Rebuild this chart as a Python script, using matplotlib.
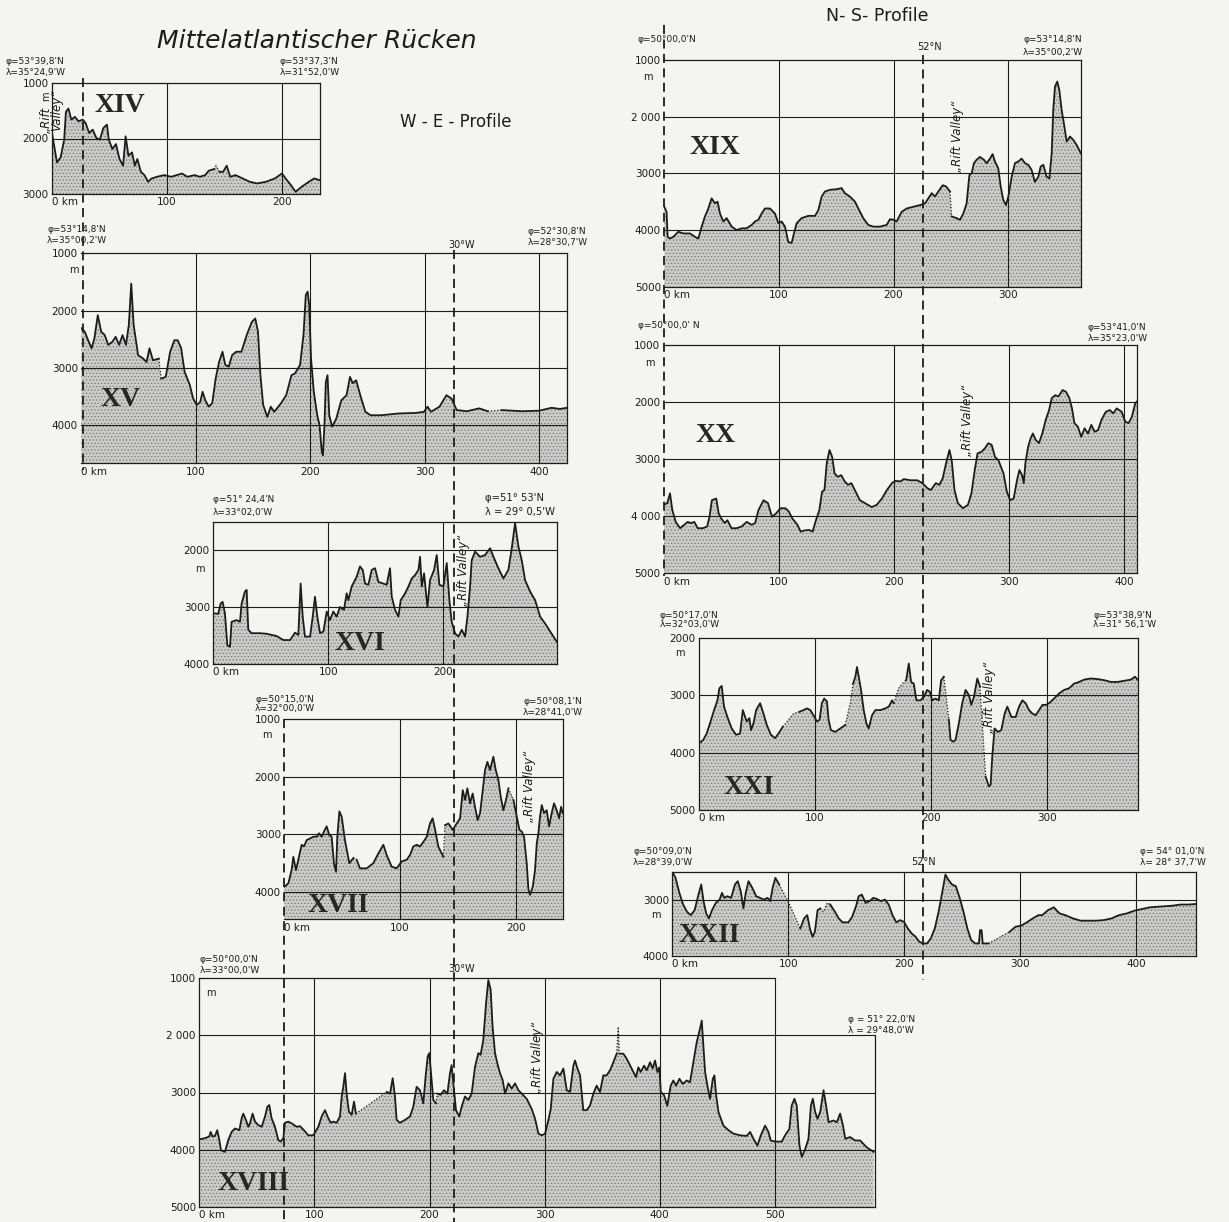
import numpy as np
import matplotlib.pyplot as plt

W, H = 1229, 1222
PAPER = '#f4f4f1'
INK = '#1c1c1c'
FILL = '#cbcbc9'
DOTS = '#767676'

plt.rcParams['hatch.linewidth'] = 0.5
plt.rcParams['font.family'] = 'DejaVu Sans'

# echo-sounding profiles: (distance in km, depth in m)
xiv = [(0, 1900), (4.3, 2430), (7.5, 2340), (10.6, 2020), (12.1, 1520), (14.3, 1460), (16.8, 1660),
       (19.9, 1610), (23, 1690), (26.7, 1660), (29.2, 1720), (32.3, 1900), (35.4, 1840), (38.5, 1990),
       (41.6, 2020), (44.7, 1810), (47.8, 1750), (49.4, 2020), (52.5, 2190), (55.6, 2100), (58.7, 2370),
       (61.8, 2490), (64, 1960), (66.5, 2310), (69.6, 2250), (72, 2490), (74.2, 2370), (77.3, 2600),
       (80.4, 2660), (83.5, 2780), (86.6, 2720), (91.3, 2690), (97.5, 2660), (103.7, 2690), (108.4, 2660),
       (113, 2630), (117.7, 2690), (123.9, 2660), (128.6, 2690), (133.2, 2660), (136.3, 2580), (141, 2550),
       (142.5, 2490), (145.7, 2600), (148.8, 2600), (151.9, 2490), (155, 2690), (159.6, 2660), (165.8, 2720),
       (172, 2780), (178.3, 2810), (186, 2780), (193.8, 2720), (200, 2630), (203.1, 2720), (207.8, 2840),
       (211.8, 2960), (217.1, 2870), (223.3, 2780), (228, 2720), (232.6, 2750)]
xiv_gaps = [(141, 145.7)]

xv = [(0, 2310), (3, 2370), (6, 2520), (9, 2660), (11.4, 2490), (14.4, 2080), (17.4, 2370), (20.5, 2430),
      (23.5, 2600), (27, 2550), (30, 2460), (33, 2600), (36, 2430), (39, 2600), (41.5, 2250), (43.6, 1530),
      (45.7, 2250), (49.6, 2780), (54, 2840), (57, 2900), (59.5, 2660), (62.6, 2870), (67.7, 2840),
      (69.8, 3190), (73.7, 3160), (77.6, 2720), (81.2, 2520), (84.2, 2520), (87.2, 2660), (90.2, 3070),
      (94.7, 3300), (97.7, 3540), (100.8, 3650), (103.8, 3600), (105.9, 3420), (108.3, 3570), (111.3, 3680),
      (114.3, 3620), (117.3, 3190), (120.3, 2900), (123.3, 2720), (125.7, 2950), (128.7, 2980), (131.7, 2780),
      (135.3, 2720), (139.8, 2720), (144.4, 2430), (148.9, 2200), (151.9, 2140), (154.3, 2370), (156.4, 3130),
      (158.8, 3650), (162.4, 3860), (165.4, 3680), (168.4, 3770), (174.4, 3620), (178.9, 3480), (183.5, 3130),
      (186.5, 3100), (191, 2950), (194, 2430), (196, 1730), (197.6, 1670), (199, 1900), (200.6, 2840),
      (203, 3420), (206, 3830), (208, 4000), (210, 4470), (211, 4530), (212.3, 4000), (213.5, 3250),
      (215, 3130), (216.5, 3830), (219, 4030), (222.6, 3890), (227, 3570), (231.6, 3480), (234.6, 3160),
      (237, 3270), (240, 3220), (243.6, 3480), (248, 3770), (252.6, 3830), (261.7, 3830), (276.7, 3800),
      (291.7, 3790), (299.2, 3770), (302.3, 3680), (305.3, 3770), (312.8, 3680), (318.8, 3480), (323.3, 3540),
      (327.8, 3740), (336.8, 3760), (347.4, 3710), (354.9, 3760), (367, 3740), (385, 3760), (400, 3750),
      (410.5, 3700), (418, 3720), (424, 3700)]
xv_gaps = [(67.7, 69.8), (354.9, 367)]

xvi = [(0, 3110), (4.3, 3120), (6.4, 2940), (8.1, 2910), (10.1, 3110), (12.2, 3670), (14.5, 3700),
       (15.9, 3260), (20.3, 3230), (23.2, 3260), (24.6, 2940), (27.5, 2730), (29, 2700), (30.4, 3400),
       (33.3, 3460), (40.6, 3460), (46.4, 3470), (55.1, 3510), (60.9, 3580), (66.7, 3580), (71, 3450),
       (73.9, 3490), (75.9, 2590), (77.7, 3170), (79.7, 3520), (84.1, 3520), (86.4, 3170), (88.4, 2820),
       (90.4, 3170), (92.8, 3460), (95.7, 3430), (98.6, 3080), (101.4, 3230), (104.3, 3080), (107.2, 3170),
       (110.1, 3000), (113.6, 3050), (115.9, 2760), (117.4, 2880), (120.3, 2640), (124.6, 2470), (127.5, 2290),
       (129.9, 2350), (131.9, 2590), (134.8, 2610), (137.7, 2350), (140.6, 2320), (143.5, 2560), (147.8, 2590),
       (150.7, 2610), (153.6, 2320), (155.1, 2820), (158, 3050), (160.9, 3170), (162.9, 2880), (166.7, 2760),
       (169.6, 2640), (172.5, 2500), (175.4, 2440), (178.3, 2350), (179.7, 2120), (181.2, 2640), (183.2, 2410),
       (186.1, 3000), (188.4, 2530), (191.9, 2350), (194.2, 2090), (196.5, 2610), (200, 2640), (202.9, 2230),
       (205.2, 2880), (207.2, 3260), (210.1, 3460), (213, 3520), (216, 3400), (218.8, 3520), (220.9, 3170),
       (223.2, 2640), (224.6, 2180), (227.5, 2030), (231.9, 2120), (236.2, 2090), (240.6, 1970), (243.5, 2120),
       (247.8, 2320), (252.2, 2500), (256.5, 2350), (259.4, 1970), (262.3, 1530), (265.2, 1940), (268.1, 2180),
       (271, 2530), (275.4, 2730), (279.7, 2880), (284.1, 3170), (288.4, 3290), (292.8, 3430), (295.7, 3520),
       (298.6, 3610)]
xvi_gaps = []

xvii = [(0, 3910), (3.5, 3850), (6.3, 3620), (7.8, 3390), (10.1, 3620), (12.1, 3440), (15, 3180), (17, 3210),
        (19.3, 3100), (22.2, 3070), (25.1, 3040), (28, 3040), (30, 2980), (32.3, 3040), (34.3, 2950),
        (36.6, 2860), (38.9, 3010), (40.9, 3040), (42.9, 3500), (44.7, 3650), (45.8, 3040), (47.6, 2600),
        (49.6, 2690), (52.4, 3100), (56.2, 3500), (59.7, 3410), (62.5, 3440), (65.4, 3590), (71.2, 3590),
        (76.9, 3500), (81.3, 3330), (85.6, 3180), (88.5, 3360), (92.8, 3560), (97.1, 3590), (101.4, 3470),
        (105.8, 3440), (108.6, 3360), (111.5, 3210), (114.4, 3180), (117.3, 3210), (120.2, 3130), (123.1, 3040),
        (125.9, 2810), (128.2, 2720), (130.3, 2920), (133.1, 3210), (137.5, 3390), (138.9, 2840), (141.8, 2810),
        (145.5, 2920), (149, 2810), (151.9, 2720), (154.2, 2230), (156.2, 2400), (158.2, 2200), (160.5, 2460),
        (162.8, 2290), (164.8, 2520), (167.1, 2750), (169.2, 2630), (171.5, 2230), (173.5, 1880), (175.5, 1740),
        (177.8, 1880), (180.7, 1650), (182.7, 1880), (185, 2050), (187, 2340), (189.3, 2580), (191.6, 2400),
        (193.7, 2200), (198, 2400), (200.9, 2690), (203.2, 2920), (205.2, 2950), (207.2, 3040), (209.5, 3500),
        (211, 3960), (212.4, 4050), (214.7, 3910), (216.7, 3620), (218.2, 3150), (219.6, 2980), (221, 2690),
        (222.5, 2490), (224.5, 2630), (226.8, 2580), (228.8, 2860), (231.1, 2630), (233.1, 2460), (235.4, 2580),
        (237.5, 2720), (239.2, 2520), (240.6, 2630)]
xvii_gaps = [(59.7, 62.5), (137.5, 138.9), (193.7, 198)]

xviii = [(0, 3820), (4.9, 3800), (8.7, 3770), (9.8, 3690), (11.6, 3770), (13.6, 3760), (15.6, 3660),
         (17.4, 3830), (18.8, 4010), (22.3, 4040), (25.2, 3830), (28.1, 3690), (31, 3630), (34.8, 3660),
         (36.8, 3450), (38.2, 3370), (40.5, 3480), (42.6, 3600), (44, 3540), (46.3, 3370), (48.4, 3510),
         (51.3, 3570), (54.2, 3600), (57.1, 3420), (59.1, 3250), (60.8, 3220), (62.8, 3450), (65.7, 3600),
         (68.6, 3830), (70.7, 3860), (73, 3800), (74.4, 3530), (77.3, 3510), (80.2, 3540), (84.6, 3600),
         (87.5, 3590), (90.9, 3660), (94.7, 3750), (99, 3750), (103.4, 3600), (106.3, 3420), (109.2, 3310),
         (112.1, 3450), (114.1, 3530), (116.4, 3510), (119.3, 3530), (122.2, 3420), (123.7, 3070), (125.1, 2900),
         (126.6, 2660), (128, 3020), (130, 3340), (132.4, 3390), (134.4, 3160), (136.1, 3370), (162.8, 2990),
         (165.7, 3020), (168, 2750), (170, 3070), (171.4, 3480), (174.3, 3530), (178.7, 3480), (183, 3420),
         (185.9, 3250), (188.8, 2900), (191.7, 2960), (194.6, 3190), (196.6, 2720), (198.4, 2370), (199.8, 2310),
         (201.3, 2660), (203.3, 3130), (205.6, 3190), (206.8, 3020), (209.7, 3040), (212.6, 2960), (215.5, 3020),
         (217.8, 2660), (219.2, 2520), (220.7, 2840), (223, 3310), (225.9, 3420), (227.9, 3250), (230.8, 3070),
         (233.7, 3130), (236.6, 3020), (239.5, 2550), (242.4, 2310), (244.4, 2340), (246.7, 2080), (249.1, 1440),
         (251.1, 1030), (253.1, 1200), (254.8, 1850), (256.9, 2310), (258.9, 2490), (261.2, 2660), (263.5, 2780),
         (265.6, 3020), (268.5, 2840), (271.4, 2930), (274.3, 2840), (277.2, 2960), (280.1, 3020), (284.4, 3110),
         (288.8, 3290), (291.7, 3460), (294.6, 3720), (297.5, 3750), (300.4, 3720), (303.2, 3490), (305.3, 3290),
         (307.6, 2760), (310.5, 2640), (313.4, 2700), (316.3, 2580), (319.2, 2960), (322.1, 2990), (325, 2530),
         (326.4, 2440), (328.5, 2580), (330.8, 2700), (333.6, 3310), (336.5, 3310), (339.4, 3230), (342.3, 3020),
         (345.2, 2880), (348.1, 2990), (351, 2700), (353.9, 2700), (356.8, 2610), (359.7, 2470), (362.6, 2320),
         (364, 1850), (364.9, 2320), (368.4, 2320), (371.3, 2410), (375.6, 2580), (379.4, 2730), (381.4, 2560),
         (383.5, 2640), (386.4, 2530), (388.7, 2610), (391.6, 2470), (393.9, 2580), (395.9, 2440), (398, 2640),
         (399.7, 2560), (400.9, 2990), (403.8, 3050), (406.6, 3230), (409.5, 2880), (411.8, 2790), (414.2, 2880),
         (417.1, 2760), (420, 2850), (423.4, 2790), (426.3, 2820), (429.2, 2470), (432.1, 2120), (435, 1880),
         (436.5, 1740), (437.9, 2180), (439.4, 2640), (441.4, 2880), (443.7, 3110), (446.1, 2760), (447.5, 2700),
         (449, 3050), (451, 3340), (455.3, 3580), (459.7, 3660), (464, 3720), (469.8, 3750), (475.6, 3760),
         (478.5, 3690), (481.4, 3810), (484.9, 3930), (487.8, 3750), (491.5, 3580), (494.4, 3690), (496.4, 3840),
         (500.2, 3860), (506, 3860), (508.9, 3750), (512.6, 3640), (514.6, 3230), (517, 3110), (519, 3230),
         (521.4, 3930), (523.4, 4130), (526.4, 3990), (529.2, 3810), (531.3, 3230), (533, 3110), (535, 3340),
         (537.1, 3460), (539.4, 3340), (542.3, 2960), (544.5, 3230), (546.7, 3520), (551, 3490), (553.9, 3520),
         (556.7, 3370), (559.2, 3580), (561.2, 3810), (565.3, 3780), (569.7, 3840), (574.1, 3840), (579.8, 3960),
         (585.8, 4040)]
xviii_gaps = [(136.1, 162.8), (205.6, 206.8), (362.6, 364.9)]

xix = [(0, 3590), (2, 3680), (2.9, 4120), (4.9, 4150), (7.9, 4120), (12.2, 4030), (16.6, 4060), (22.4, 4060),
       (26.8, 4120), (29.7, 4150), (32.6, 3940), (35.5, 3760), (38.4, 3620), (41.3, 3440), (44.2, 3530),
       (46.5, 3500), (48.6, 3710), (51.5, 3850), (54.4, 3790), (58.8, 3940), (63.1, 4000), (67.5, 3970),
       (71.8, 3970), (76.2, 3910), (79.1, 3850), (82, 3820), (84.9, 3710), (87.8, 3620), (92.2, 3620),
       (96.6, 3710), (99.5, 3880), (102.4, 3850), (105.3, 3940), (108.2, 4210), (111.1, 4230), (113.1, 4060),
       (115.5, 3880), (119.8, 3790), (125.7, 3750), (131.5, 3750), (134.4, 3650), (137.3, 3410), (140.2, 3320),
       (144.6, 3290), (150.4, 3280), (154.7, 3260), (157.6, 3350), (162, 3410), (166.4, 3500), (169.3, 3620),
       (173.6, 3790), (178, 3910), (182.4, 3940), (188.2, 3940), (194, 3910), (196.9, 3810), (200.4, 3820),
       (202.7, 3850), (207.1, 3680), (211.5, 3620), (217.3, 3590), (223.1, 3560), (227.5, 3530), (230.4, 3440),
       (233.3, 3350), (236.2, 3410), (239.1, 3320), (242.9, 3210), (245.8, 3230), (249.3, 3320), (250.7, 3760),
       (255.1, 3790), (258, 3820), (260.9, 3710), (263.8, 3530), (266.2, 3030), (268.2, 3000), (270.2, 2820),
       (272.5, 2760), (275.4, 2710), (278.9, 2760), (281.3, 2820), (284.2, 2740), (286.5, 2660), (288.5, 2790),
       (291.4, 2910), (293.5, 3230), (295.8, 3470), (298.1, 3560), (300.2, 3410), (303.1, 3060), (306, 2820),
       (308.9, 2790), (311.8, 2740), (314.7, 2820), (317.6, 2850), (320.5, 2940), (323.4, 3150), (326.4, 3060),
       (328.4, 2880), (330.7, 2850), (333.6, 3060), (336, 3090), (338, 2650), (339.4, 1880), (340.9, 1470),
       (342.9, 1380), (344.7, 1530), (346.7, 1880), (348.7, 2120), (351.1, 2440), (354, 2350), (356.9, 2410),
       (359.8, 2500), (363.6, 2650)]
xix_gaps = [(249.3, 250.7)]

xx = [(0, 3800), (2.9, 3770), (5.3, 3600), (7.3, 3890), (10.3, 4100), (14.1, 4210), (17.6, 4150), (20.6, 4100),
      (23.5, 4120), (26.4, 4100), (29.4, 4210), (33.8, 4210), (37.6, 4180), (39.6, 4010), (41.7, 3720),
      (45.5, 3690), (47.6, 3950), (49.9, 4040), (52.8, 4120), (55.2, 4070), (58.7, 4210), (63.1, 4210),
      (67.5, 4180), (71.9, 4100), (76.3, 4150), (79.3, 4120), (82.2, 3890), (86.6, 3720), (90.4, 3770),
      (94, 4010), (97.5, 3950), (101.3, 3860), (105.7, 3860), (108.6, 3920), (111.6, 4040), (116, 4150),
      (118.9, 4270), (121.8, 4250), (126.2, 4240), (129.2, 4270), (132.1, 4070), (135.1, 3890), (137.4, 3570),
      (139.5, 3540), (141.5, 3070), (143.9, 2840), (146.2, 2960), (148.3, 3250), (151.2, 3310), (154.1, 3280),
      (157.1, 3390), (160, 3450), (162.9, 3420), (165.9, 3540), (170.3, 3720), (174.7, 3770), (180.6, 3840),
      (185, 3800), (189.4, 3690), (193.8, 3540), (198.2, 3420), (201.1, 3380), (205.5, 3390), (208.5, 3350),
      (214.3, 3370), (220.2, 3370), (224.6, 3420), (229, 3510), (232, 3540), (236.3, 3420), (239.3, 3450),
      (242.2, 3340), (245.2, 3070), (248.1, 2840), (250.1, 3020), (252.5, 3540), (255.4, 3770), (259.8, 3860),
      (264.2, 3800), (267.2, 3600), (270.1, 3190), (272.5, 2900), (276, 2870), (278.9, 2810), (281.9, 2720),
      (284.8, 2750), (287.7, 2960), (290.7, 3020), (295.1, 3250), (298, 3570), (300.9, 3720), (303.9, 3690),
      (306.8, 3370), (308.9, 3190), (311.2, 3280), (312.7, 3420), (314.1, 3070), (316.5, 2780), (318.6, 2640),
      (320.6, 2550), (323, 2660), (325.9, 2720), (328.8, 2550), (331.8, 2310), (334.7, 2140), (337, 1930),
      (340, 1880), (342.9, 1900), (346.4, 1790), (349.4, 1820), (352.3, 1930), (354.6, 2110), (356.7, 2370),
      (359.7, 2430), (362.6, 2610), (365.5, 2460), (368.5, 2550), (371.4, 2400), (374.3, 2520), (377.3, 2490),
      (380.2, 2310), (384, 2170), (387.6, 2140), (390.5, 2200), (393.4, 2110), (397.8, 2170), (400.8, 2340),
      (403.7, 2370), (406.6, 2260), (409.6, 2020), (411, 1990)]
xx_gaps = []

xxi = [(0, 3840), (3.7, 3780), (6.6, 3670), (9.5, 3490), (13, 3260), (15.9, 3090), (17.6, 2880), (19.6, 2840),
       (21.6, 3200), (24.5, 3380), (28.2, 3580), (32, 3690), (35.4, 3670), (37.8, 3260), (39.8, 3380),
       (41.2, 3460), (43.5, 3400), (44.9, 3610), (47, 3490), (49.3, 3260), (52.7, 3140), (55.6, 3320),
       (58.5, 3520), (62, 3690), (65.7, 3750), (69.5, 3640), (72.3, 3550), (81.6, 3320), (86.7, 3290),
       (90.2, 3260), (93.1, 3230), (96, 3260), (98.8, 3350), (101.7, 3460), (104, 3430), (106, 3140), (108, 3060),
       (110.4, 3110), (111.8, 3430), (113.8, 3610), (117.6, 3640), (121.9, 3580), (126.2, 3520), (130.5, 3140),
       (132.9, 2800), (134.9, 2680), (136.3, 2510), (137.8, 2680), (139.8, 2910), (142.1, 3260), (144.4, 3490),
       (146.4, 3580), (149.3, 3350), (152.2, 3260), (156.5, 3260), (160.8, 3230), (163.7, 3200), (166.6, 3090),
       (168, 3140), (172.3, 2880), (176.7, 2770), (178.7, 2740), (181, 2450), (183, 2770), (185.3, 2800),
       (187.6, 3090), (191.1, 3090), (194, 3030), (196.8, 2910), (199.1, 2940), (201.2, 3090), (204, 3060),
       (206.9, 3090), (208.9, 2740), (211.2, 2680), (215.6, 3430), (217, 3780), (219.3, 3810), (221.3, 3780),
       (224.2, 3490), (227.1, 3140), (230, 2910), (232.9, 3000), (234.9, 3170), (237.2, 3030), (240.1, 2710),
       (242.4, 2850), (247.3, 4420), (250.1, 4590), (251.6, 4560), (253, 4070), (255, 3580), (257.9, 3640),
       (260.8, 3610), (263.7, 3320), (266, 3200), (269.5, 3380), (273.2, 3380), (276.1, 3200), (279, 3090),
       (281.8, 3140), (284.7, 3260), (287.6, 3320), (290.5, 3350), (293.4, 3260), (296.3, 3170), (299.1, 3170),
       (302, 3140), (306.3, 3060), (310.7, 2970), (315, 2910), (319.3, 2880), (323.6, 2800), (328, 2770),
       (332.3, 2730), (338, 2710), (343.8, 2720), (349.6, 2740), (355.3, 2770), (361.1, 2770), (366.9, 2750),
       (372.6, 2730), (376.1, 2680), (379, 2740)]
xxi_gaps = [(72.3, 86.7), (126.2, 132.9), (168, 178.7), (211.2, 215.6), (242.4, 247.3)]

xxii = [(0, 2490), (2.7, 2600), (6, 2870), (9.3, 3080), (12.6, 3210), (15.9, 3270), (19.2, 3180), (22.5, 2900),
        (24.9, 2720), (26.9, 3020), (29.2, 3240), (31.5, 3330), (34.2, 3180), (37.5, 3050), (40.8, 2990),
        (42.8, 2870), (44.8, 2960), (47.4, 2930), (50.7, 2960), (54, 2720), (56.4, 2660), (59, 2840),
        (61.3, 3150), (63.3, 2870), (65.7, 2660), (69, 2780), (72.3, 2930), (75.6, 2960), (78.9, 2990),
        (82.2, 2960), (84.5, 3020), (86.5, 2780), (88.9, 2600), (92.2, 2720), (99.8, 3020), (110.4, 3510),
        (113.7, 3330), (116.4, 3270), (118.7, 3510), (121, 3660), (123, 3570), (125.3, 3180), (127.7, 3150),
        (130.3, 3210), (133.6, 3050), (136.3, 3080), (140.3, 3210), (143.6, 3330), (146.9, 3400), (151.9, 3400),
        (155.2, 3300), (158.5, 3110), (160.8, 2930), (163.5, 2900), (166.8, 3050), (170.1, 3020), (173.4, 2960),
        (176.7, 2980), (180, 3020), (183.4, 2990), (186.7, 3080), (190, 3270), (193.3, 3400), (196.6, 3360),
        (199.9, 3390), (203.2, 3510), (206.6, 3600), (209.9, 3660), (213.2, 3750), (216.5, 3780), (219.8, 3780),
        (223.1, 3690), (226.5, 3510), (229.8, 3210), (233.1, 2840), (235.7, 2540), (238.1, 2630), (241.4, 2720),
        (244.7, 2750), (248, 2960), (251.3, 3210), (254.6, 3510), (258, 3720), (261.3, 3780), (264.6, 3780),
        (265.6, 3540), (266.9, 3540), (267.9, 3780), (272.9, 3780), (291.1, 3570), (296.1, 3480), (301, 3460),
        (306, 3400), (311, 3330), (316, 3270), (319.3, 3270), (324.3, 3180), (329.2, 3130), (334.2, 3240),
        (339.2, 3270), (345.8, 3330), (352.5, 3370), (359.1, 3370), (365.7, 3370), (372.3, 3360), (379, 3330),
        (385.6, 3270), (392.2, 3240), (398.9, 3190), (405.5, 3160), (412.1, 3130), (418.8, 3120), (425.4, 3110),
        (432, 3100), (438.7, 3080), (445.3, 3080), (452, 3070)]
xxii_gaps = [(92.2, 110.4), (127.7, 136.3), (272.9, 291.1)]


fig = plt.figure(figsize=(W / 100, H / 100), dpi=100, facecolor=PAPER)

# full-page layer in pixel units for the meridian lines and lettering
pg = fig.add_axes([0, 0, 1, 1], zorder=5)
pg.set_xlim(0, W)
pg.set_ylim(H, 0)
pg.axis('off')
pg.patch.set_alpha(0)


def in_gap(a, b, gaps):
    return any(g0 - 1e-6 <= a and b <= g1 + 1e-6 for g0, g1 in gaps)


def panel(prof, gaps, box, xmax, ylim, yticks, ylabels, open_left=False, step=None):
    l, t, r, b = box
    ax = fig.add_axes([l / W, 1 - b / H, (r - l) / W, (b - t) / H])
    ax.patch.set_alpha(0)
    km, dep = np.array(prof, dtype=float).T
    ybot, ytop = ylim
    ax.set_xlim(0, xmax)
    ax.set_ylim(ybot, ytop)

    ax.fill_between(km, dep, ybot, facecolor=FILL, edgecolor=DOTS, hatch='.....', lw=0, zorder=1)

    xt = list(range(0, int(xmax) + 1, 100))
    for x in xt[1:]:
        ax.axvline(x, color=INK, lw=0.8, zorder=2)
    for y in yticks:
        if ytop < y < ybot:
            ax.axhline(y, color=INK, lw=0.8, zorder=2)

    # profile line, dotted where the record was interpolated
    groups = []
    cur, cur_dot = [0], in_gap(km[0], km[1], gaps)
    for i in range(len(km) - 1):
        d = in_gap(km[i], km[i + 1], gaps)
        if d != cur_dot:
            groups.append((cur, cur_dot))
            cur, cur_dot = [i], d
        cur.append(i + 1)
    groups.append((cur, cur_dot))
    for idx, dot in groups:
        if dot:
            ax.plot(km[idx], dep[idx], color=INK, lw=0.9, ls=(0, (1, 1.5)), zorder=3)
        else:
            ax.plot(km[idx], dep[idx], color=INK, lw=1.3, zorder=3, solid_joinstyle='round')

    ax.set_xticks(xt)
    ax.set_xticklabels(['0 km'] + [str(x) for x in xt[1:]])
    ax.set_yticks(yticks)
    ax.set_yticklabels(ylabels)
    ax.tick_params(length=0, labelsize=7.5, colors=INK, pad=2.5)
    ax.get_xticklabels()[0].set_ha('left')
    for s in ax.spines.values():
        s.set_linewidth(0.9)
        s.set_color(INK)
    if open_left:
        ax.spines['left'].set_visible(False)
    if step is not None:
        # upper frame only reaches to the given distance, then drops one grid level
        ax.spines['top'].set_visible(False)
        ax.spines['right'].set_visible(False)
        ax.plot([0, step[0]], [ytop, ytop], color=INK, lw=0.9, clip_on=False, zorder=4)
        ax.plot([xmax, xmax], [step[1], ybot], color=INK, lw=0.9, clip_on=False, zorder=4)
    return ax


panel(xiv, xiv_gaps, (52, 83, 319.6, 194), 232.7, (3000, 1000),
      [1000, 2000, 3000], ['1000', '2000', '3000'])
panel(xv, xv_gaps, (81.3, 253.3, 566.9, 463.3), 424, (4670, 1000),
      [1000, 2000, 3000, 4000], ['1000', '2000', '3000', '4000'], open_left=True)
panel(xvi, xvi_gaps, (213.3, 522.3, 557.3, 664), 299, (4000, 1515),
      [2000, 3000, 4000], ['2000', '3000', '4000'])
panel(xvii, xvii_gaps, (284.3, 719.3, 562.7, 919.3), 240.6, (4475, 1000),
      [1000, 2000, 3000, 4000], ['1000', '2000', '3000', '4000'], open_left=True)
panel(xviii, xviii_gaps, (199.3, 978.3, 875, 1206.7), 587, (5000, 1000),
      [1000, 2000, 3000, 4000, 5000], ['1000', '2 000', '3000', '4000', '5000'], step=(500, 2000))
panel(xix, xix_gaps, (664.3, 60, 1081, 286.7), 363.6, (5000, 1000),
      [1000, 2000, 3000, 4000, 5000], ['1000', '2 000', '3000', '4000', '5000'], open_left=True)
panel(xx, xx_gaps, (663.9, 345, 1136.9, 573.3), 411, (5000, 1000),
      [1000, 2000, 3000, 4000, 5000], ['1000', '2000', '3000', '4 000', '5000'], open_left=True)
panel(xxi, xxi_gaps, (699, 637.7, 1138.3, 810), 379, (5000, 2000),
      [2000, 3000, 4000, 5000], ['2000', '3000', '4000', '5000'])
panel(xxii, xxii_gaps, (672.4, 872.3, 1196, 955.7), 452, (4000, 2500),
      [3000, 4000], ['3000', '4000'])

# meridian / parallel crossings
dash = dict(color=INK, lw=1.3, ls=(0, (5, 3)))
pg.plot([82.5, 82.5], [78, 470], **dash)
pg.plot([454, 454], [250, 1222], **dash)
pg.plot([923, 923], [55, 980], **dash)
pg.plot([284, 284], [719, 1222], **dash)
pg.plot([664, 664], [25, 576], **dash)

small = dict(fontsize=6.5, color=INK, va='center', ha='left')
corners = [
    (6, 62, "φ=53°39,8'N"), (6, 73, "λ=35°24,9'W"),
    (280, 62, "φ=53°37,3'N"), (280, 73, "λ=31°52,0'W"),
    (47, 230, "φ=53°14,8'N"), (47, 241, "λ=35°00,2'W"),
    (528, 232, "φ=52°30,8'N"), (528, 243, "λ=28°30,7'W"),
    (213, 500, "φ=51° 24,4'N"), (213, 513, "λ=33°02,0'W"),
    (255, 700, "φ=50°15,0'N"), (255, 709, "λ=32°00,0'W"),
    (523, 702, "φ=50°08,1'N"), (523, 712, "λ=28°41,0'W"),
    (200, 960, "φ=50°00,0'N"), (200, 970, "λ=33°00,0'W"),
    (848, 1020, "φ = 51° 22,0'N"), (848, 1030, "λ = 29°48,0'W"),
    (638, 40, "φ=50°00,0'N"),
    (1023, 40, "φ=53°14,8'N"), (1023, 52, "λ=35°00,2'W"),
    (638, 326, "φ=50°00,0' N"),
    (1088, 328, "φ=53°41,0'N"), (1088, 339, "λ=35°23,0'W"),
    (660, 615, "φ=50°17,0'N"), (660, 625, "λ=32°03,0'W"),
    (1093, 615, "φ=53°38,9'N"), (1093, 625, "λ=31° 56,1'W"),
    (633, 852, "φ=50°09,0'N"), (633, 862, "λ=28°39,0'W"),
    (1140, 852, "φ= 54° 01,0'N"), (1140, 862, "λ= 28° 37,7'W"),
]
for x, y, s in corners:
    pg.text(x, y, s, **small)
pg.text(485, 498, "φ=51° 53'N", fontsize=7.2, color=INK, va='center', ha='left')
pg.text(485, 512, "λ = 29° 0,5'W", fontsize=7.2, color=INK, va='center', ha='left')

for x, y, s in [(462, 245, '30°W'), (462, 969, '30°W'), (929, 47, '52°N'), (924, 862, '52°N')]:
    pg.text(x, y, s, fontsize=7, color=INK, ha='center', va='center')

for x, y in [(74, 270), (200, 569), (267, 735), (211, 993), (648, 77), (650, 363), (680, 653), (656, 915)]:
    pg.text(x, y, 'm', fontsize=7, color=INK, ha='center', va='center')

# panel numbers
roman = [(120, 106, 'XIV'), (121, 399, 'XV'), (360, 644, 'XVI'), (338, 905, 'XVII'), (253, 1183, 'XVIII'),
         (715, 148, 'XIX'), (716, 436, 'XX'), (749, 787, 'XXI'), (709, 936, 'XXII')]
for x, y, s in roman:
    pg.text(x, y, s, fontsize=20, family='Liberation Serif', weight='bold', color='#262626',
            ha='center', va='center')

rift = dict(fontsize=8.5, style='italic', color=INK, rotation=90, ha='center', va='center')
for x, y in [(463, 570), (530, 786), (538, 1057), (957, 136), (967, 420), (990, 697)]:
    pg.text(x, y, '\u201eRift Valley\u201c', **rift)
pg.text(46, 120, '\u201eRift', **rift)
pg.text(46, 96, 'm', fontsize=7, color=INK, rotation=90, ha='center', va='center')
pg.text(57, 110, 'Valley\u201c', **rift)

pg.text(317, 41, 'Mittelatlantischer Rücken', fontsize=18, style='italic', color=INK,
        ha='center', va='center')
pg.text(456, 122, 'W - E - Profile', fontsize=12, color=INK, ha='center', va='center')
pg.text(877, 16, 'N- S- Profile', fontsize=12.5, color=INK, ha='center', va='center')

fig.savefig('out.png', dpi=100, facecolor=PAPER)
